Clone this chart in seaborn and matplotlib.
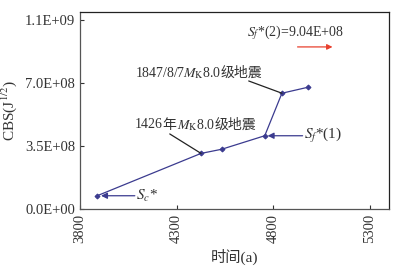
import matplotlib
matplotlib.use("Agg")
import matplotlib.pyplot as plt
import seaborn as sns
import pandas as pd

# data
years = [3889, 4427, 4534, 4757, 4846, 4980]
cbs = [0.74e8, 3.09e8, 3.32e8, 4.07e8, 6.43e8, 6.76e8]
x_ticks = [3800, 4300, 4800, 5300]
y_ticks = [0, 3.5e8, 7.0e8, 1.05e9]
y_tick_labels = ["0.0E+00", "3.5E+08", "7.0E+08", "1.1E+09"]

sns.set_style("ticks")
fonts = ["Liberation Serif", "Noto Sans CJK SC"]
plt.rcParams["font.family"] = fonts
plt.rcParams["mathtext.fontset"] = "stix"

fig = plt.figure(figsize=(3.96, 2.66), dpi=100)
ax = fig.add_axes([0.202, 0.214, 0.780, 0.741])

df = pd.DataFrame({"year": years, "cbs": cbs})
line_c = "#3b3b8f"
txt_c = "#333333"
sns.lineplot(data=df, x="year", y="cbs", ax=ax, color=line_c, lw=0.9,
             marker="D", markersize=2.5, markeredgecolor=line_c)

ax.set_xlim(3800, 5400)
ax.set_ylim(0, 1.094e9)
ax.set_xticks(x_ticks)
ax.set_xticklabels([str(v) for v in x_ticks], rotation=90)
ax.set_yticks(y_ticks)
ax.set_yticklabels(y_tick_labels)
ax.tick_params(direction="in", length=3, labelsize=10.5, colors=txt_c)
for name, s in ax.spines.items():
    s.set_linewidth(0.9)
    s.set_color("#222222")
ax.spines["left"].set_color("#555555")
ax.spines["bottom"].set_color("#555555")

ax.set_xlabel("时间(a)", fontsize=11, labelpad=4, color=txt_c)
ax.set_ylabel("CBS(J$^{1/2}$)", fontsize=11, labelpad=4, color=txt_c)

fs = 10


def chain(parts, x, y):
    # pieces placed one after another so each uses a font that has its glyphs
    prev = ax.text(x, y, parts[0], fontsize=fs, ha="left", va="center",
                   color=txt_c)
    for p in parts[1:]:
        kw = {}
        if any(ord(c) > 0x2000 for c in p):
            kw["family"] = "Noto Sans CJK SC"
        prev = ax.annotate(p, xy=(1, 0.5), xycoords=prev, fontsize=fs,
                           ha="left", va="center", color=txt_c, **kw)
    return prev


chain(["1847/8/7$M_{\\rm K}$8.0", "级地震"], 4084, 7.56e8)
chain(["1426", "年", "$M_{\\rm K}$8.0", "级地震"], 4084, 4.67e8)

# leader lines to the two earthquakes
ax.annotate("", xy=(years[4], cbs[4]), xytext=(4674, 7.11e8),
            arrowprops=dict(arrowstyle="-", color="#222222", lw=0.9,
                            shrinkA=0, shrinkB=0))
ax.annotate("", xy=(years[1], cbs[1]), xytext=(4265, 4.17e8),
            arrowprops=dict(arrowstyle="-", color="#222222", lw=0.9,
                            shrinkA=0, shrinkB=0))

# S markers with arrows
ax.annotate("", xy=(3909, cbs[0]), xytext=(4084, cbs[0]),
            arrowprops=dict(arrowstyle="-|>", color=line_c, lw=0.9,
                            mutation_scale=9, shrinkA=0, shrinkB=0))
ax.text(4092, cbs[0], "$S_c$*", fontsize=11, ha="left", va="center",
        color=txt_c)
ax.annotate("", xy=(4772, cbs[3]), xytext=(4953, cbs[3]),
            arrowprops=dict(arrowstyle="-|>", color=line_c, lw=0.9,
                            mutation_scale=9, shrinkA=0, shrinkB=0))
ax.text(4960, cbs[3], "$S_f$*(1)", fontsize=11, ha="left", va="center",
        color=txt_c)

ax.text(4664, 9.78e8, "$S_f$*(2)=9.04E+08", fontsize=fs, ha="left",
        va="center", color=txt_c)
ax.annotate("", xy=(5108, 9.0e8), xytext=(4927, 9.0e8),
            arrowprops=dict(arrowstyle="-|>", color="#e8402e", lw=0.9,
                            mutation_scale=8, shrinkA=0, shrinkB=0))

fig.savefig("out.png", dpi=100)
